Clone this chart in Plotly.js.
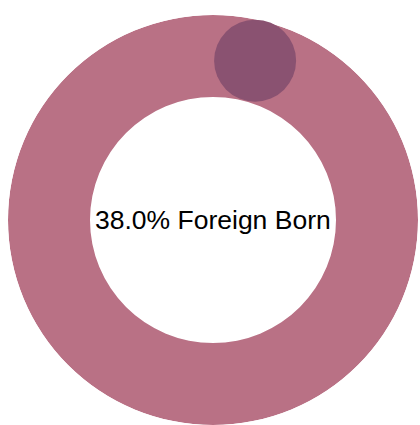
<!DOCTYPE html>
<html>
<head>
<meta charset="utf-8">
<script src="https://cdn.plot.ly/plotly-3.0.1.min.js"></script>
<style>html,body{margin:0;padding:0;background:#fff;}#chart{width:420px;height:425px;}</style>
</head>
<body>
<div id="chart"></div>
<script>
// Data
const ringBase = [0.6];
const ringThickness = [0.4];
const ringTheta = [180];
const ringWidth = [360];
const foreignBornPct = 38.0;
const centerLabel = 'Foreign Born';
const markerR = [0.804];
const markerTheta = [14.8];

const ringColor = '#B97185';
const markerColor = '#8A5271';

const data = [
  {
    type: 'barpolar',
    base: ringBase,
    r: ringThickness,
    theta: ringTheta,
    width: ringWidth,
    marker: {color: ringColor, line: {width: 0}},
    hoverinfo: 'none',
    showlegend: false
  },
  {
    type: 'scatterpolar',
    r: markerR,
    theta: markerTheta,
    mode: 'markers',
    marker: {size: 82, color: markerColor, line: {width: 0}},
    hoverinfo: 'none',
    showlegend: false
  }
];

const layout = {
  width: 420,
  height: 425,
  margin: {l: 0, r: 0, t: 0, b: 0},
  paper_bgcolor: '#ffffff',
  showlegend: false,
  polar: {
    domain: {x: [8/420, 418/420], y: [0, 1 - 15/425]},
    bgcolor: 'rgba(0,0,0,0)',
    radialaxis: {range: [0, 1], visible: false, showgrid: false, showline: false, ticks: ''},
    angularaxis: {visible: false, rotation: 90, direction: 'clockwise', showgrid: false, showline: false, ticks: ''}
  },
  annotations: [{
    text: foreignBornPct.toFixed(1) + '% ' + centerLabel,
    x: 213/420, y: 1 - 220/425,
    xref: 'paper', yref: 'paper',
    xanchor: 'center', yanchor: 'middle',
    showarrow: false,
    font: {family: 'Liberation Sans, Arial, sans-serif', size: 26.5, color: '#000000'}
  }]
};

Plotly.newPlot('chart', data, layout, {displayModeBar: false, staticPlot: true});
</script>
</body>
</html>
